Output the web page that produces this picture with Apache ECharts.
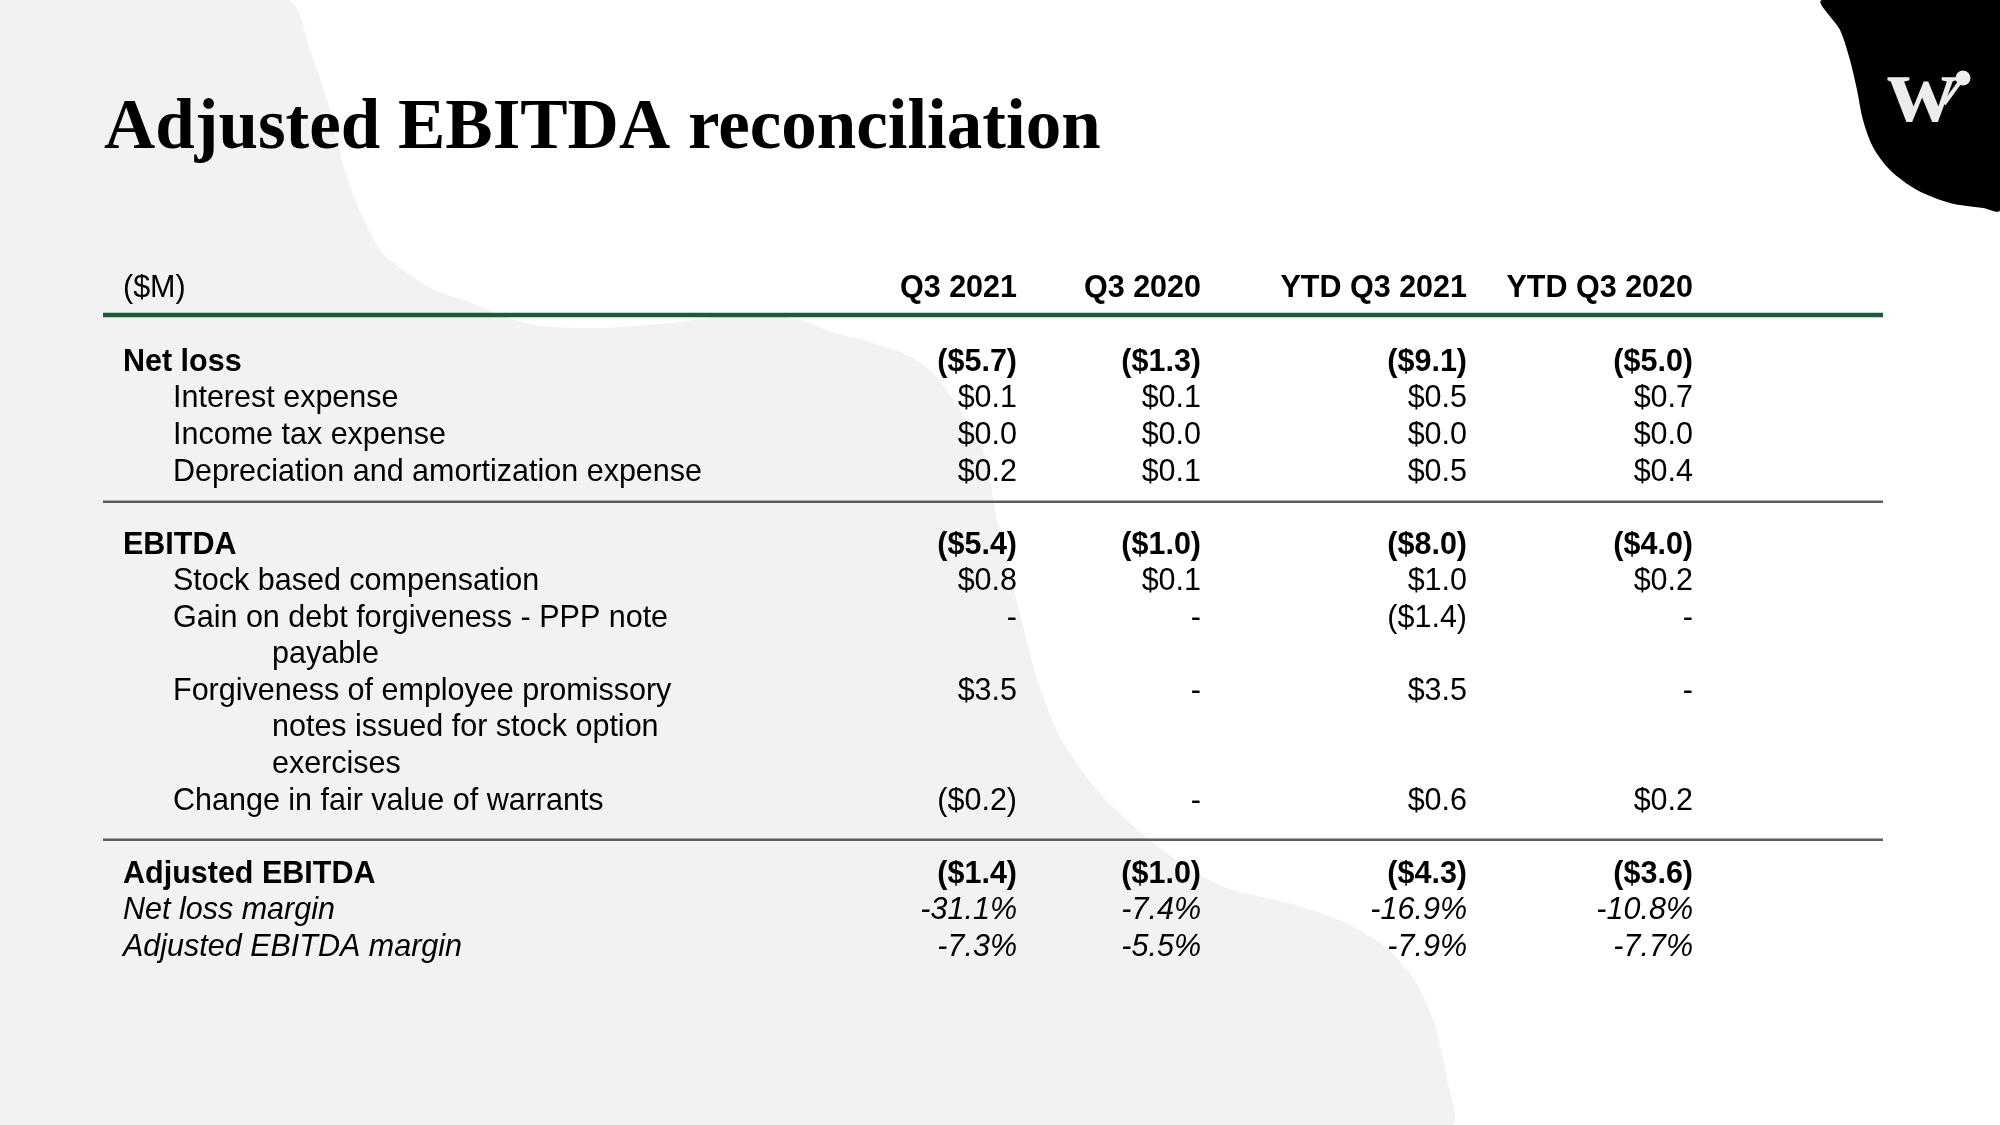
<!DOCTYPE html>
<html>
<head>
<meta charset="utf-8">
<script src="https://cdn.jsdelivr.net/npm/echarts@6/dist/echarts.min.js"></script>
<style>
html,body{margin:0;padding:0;background:#fff;}
#chart{width:2000px;height:1125px;}
</style>
</head>
<body>
<div id="chart"></div>
<script>
// ---------- data ----------
const titleText = 'Adjusted EBITDA reconciliation';
const unitLabel = '($M)';
const columns = ['Q3 2021', 'Q3 2020', 'YTD Q3 2021', 'YTD Q3 2020'];
const lineItems = [
  'Net loss',
  'Interest expense',
  'Income tax expense',
  'Depreciation and amortization expense',
  'EBITDA',
  'Stock based compensation',
  'Gain on debt forgiveness - PPP note\npayable',
  'Forgiveness of employee promissory\nnotes issued for stock option\nexercises',
  'Change in fair value of warrants',
  'Adjusted EBITDA',
  'Net loss margin',
  'Adjusted EBITDA margin'
];
const q3_2021     = [-5.7, 0.1, 0.0, 0.2, -5.4, 0.8, null, 3.5, -0.2, -1.4, -31.1, -7.3];
const q3_2020     = [-1.3, 0.1, 0.0, 0.1, -1.0, 0.1, null, null, null, -1.0, -7.4, -5.5];
const ytd_q3_2021 = [-9.1, 0.5, 0.0, 0.5, -8.0, 1.0, -1.4, 3.5, 0.6, -4.3, -16.9, -7.9];
const ytd_q3_2020 = [-5.0, 0.7, 0.0, 0.4, -4.0, 0.2, null, null, 0.2, -3.6, -10.8, -7.7];
const subtotalItems = ['Net loss', 'EBITDA', 'Adjusted EBITDA'];
const marginItems = ['Net loss margin', 'Adjusted EBITDA margin'];

// ---------- layout ----------
const LAYOUT = {
  labelX: 123, indentX: 173, wrapX: 272,
  colRight: [1017, 1201, 1467, 1693],
  ruleLeft: 103, ruleRight: 1883,
  rowPx: 36.55, row0: 362.5,
  headerRow: -2.03, headerRule: -1.3, breakRuleOffsets: [-0.19, 0.06]
};
const SANS = '"Liberation Sans", Arial, Helvetica, sans-serif';
const FONT_PX = 30.5;

function fmt(v, margin) {
  if (v === null || v === undefined) return '-';
  if (margin) return v.toFixed(1) + '%';
  return v < 0 ? '($' + Math.abs(v).toFixed(1) + ')' : '$' + v.toFixed(1);
}

const valueCols = [q3_2021, q3_2020, ytd_q3_2021, ytd_q3_2020];
const cells = [];
const rules = [{ row: LAYOUT.headerRule, color: '#1d5a37', width: 4.5 }];

// header
cells.push({ x: LAYOUT.labelX, row: LAYOUT.headerRow, text: unitLabel, bold: false, italic: false, align: 'left' });
columns.forEach((c, j) => cells.push({ x: LAYOUT.colRight[j], row: LAYOUT.headerRow, text: c, bold: true, italic: false, align: 'right' }));

let r = 0, b = 0;
lineItems.forEach((item, i) => {
  const sub = subtotalItems.includes(item);
  const margin = marginItems.includes(item);
  if (sub && i > 0) {
    rules.push({ row: r + LAYOUT.breakRuleOffsets[b++], color: '#5c5c5c', width: 2.5 });
    r += 1;
  }
  const lines = item.split('\n');
  lines.forEach((ln, k) => {
    cells.push({
      x: k === 0 ? ((sub || margin) ? LAYOUT.labelX : LAYOUT.indentX) : LAYOUT.wrapX,
      row: r + k, text: ln, bold: sub, italic: margin, align: 'left'
    });
  });
  valueCols.forEach((col, j) => {
    cells.push({ x: LAYOUT.colRight[j], row: r, text: fmt(col[i], margin), bold: sub, italic: margin, align: 'right' });
  });
  r += lines.length;
});

// ---------- background shapes ----------
const grayBlob = [
  [0,0],[288,0],[310,50],[327,100],[339,150],[355,200],[380,250],[403,270],[434,290],[469,302],
  [505,317],[540,326],[600,328],[670,323],[730,315],[765,314],[800,320],[832,332],[870,342],
  [909,356],[935,375],[957,405],[975,435],[986,458],[997,520],[1014,590],[1037,679],[1060,737],
  [1096,789],[1140,832],[1185,866],[1229,889],[1296,905],[1341,921],[1386,947],[1417,984],
  [1435,1026],[1447,1079],[1451,1125],[0,1125]
];
const blackBlob = [
  [1822,0],[1840,30],[1850,60],[1857,90],[1863,120],[1873,147],[1890,170],[1917,190],
  [1950,203],[1983,208],[2000,210],[2000,0]
];

const chart = echarts.init(document.getElementById('chart'), null, { renderer: 'canvas' });
const rowMin = -2.5, rowMax = 17.5;

chart.setOption({
  animation: false,
  backgroundColor: '#ffffff',
  title: {
    text: titleText, left: 104, top: 94, padding: 0,
    textStyle: { fontFamily: '"Liberation Serif", "DejaVu Serif", serif', fontWeight: 'bold', fontSize: 71, color: '#000' }
  },
  graphic: [
    { type: 'polygon', z: -10, silent: true, shape: { points: grayBlob, smooth: 0.25 }, style: { fill: '#f2f2f2' } },
    { type: 'polygon', z: -10, silent: true, shape: { points: blackBlob, smooth: 0.3 }, style: { fill: '#000' } },
    { type: 'text', z: 10, silent: true, x: 1922, y: 96,
      style: { text: 'w', fill: '#ececec', font: 'bold 96px "Liberation Serif", serif', align: 'center', verticalAlign: 'middle' } },
    { type: 'line', z: 10, silent: true, shape: { x1: 1944, y1: 104, x2: 1960, y2: 82 }, style: { stroke: '#ececec', lineWidth: 4 } },
    { type: 'circle', z: 10, silent: true, shape: { cx: 1963, cy: 78, r: 7.5 }, style: { fill: '#ececec' } }
  ],
  grid: { left: 0, width: 2000, top: LAYOUT.row0 + rowMin * LAYOUT.rowPx, height: (rowMax - rowMin) * LAYOUT.rowPx, containLabel: false },
  xAxis: { type: 'value', min: 0, max: 2000, show: false },
  yAxis: { type: 'value', min: rowMin, max: rowMax, inverse: true, show: false },
  series: [
    {
      type: 'custom', name: 'rules', silent: true,
      data: rules.map((ru, i) => [LAYOUT.ruleLeft, ru.row, i]),
      renderItem: function (params, api) {
        const ru = rules[params.dataIndex];
        const p1 = api.coord([LAYOUT.ruleLeft, api.value(1)]);
        const p2 = api.coord([LAYOUT.ruleRight, api.value(1)]);
        return { type: 'line', shape: { x1: p1[0], y1: p1[1], x2: p2[0], y2: p2[1] }, style: { stroke: ru.color, lineWidth: ru.width } };
      }
    },
    {
      type: 'custom', name: 'cells', silent: true,
      data: cells.map((c, i) => [c.x, c.row, i]),
      renderItem: function (params, api) {
        const c = cells[params.dataIndex];
        const p = api.coord([api.value(0), api.value(1)]);
        return {
          type: 'text', x: p[0], y: p[1],
          style: {
            text: c.text, fill: '#000',
            font: (c.italic ? 'italic ' : '') + (c.bold ? 'bold ' : '') + FONT_PX + 'px ' + SANS,
            align: c.align, verticalAlign: 'middle'
          }
        };
      }
    }
  ]
});
</script>
</body>
</html>
